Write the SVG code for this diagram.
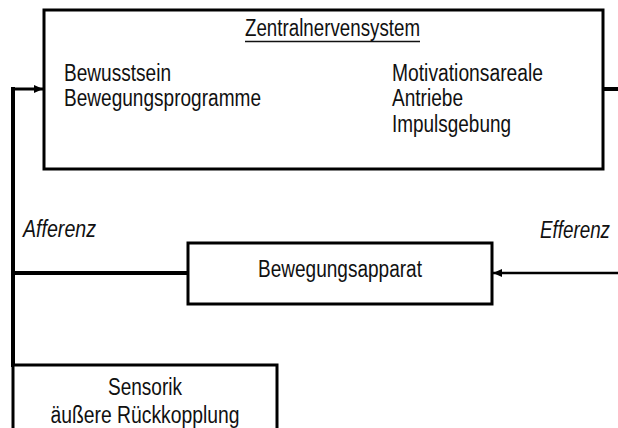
<svg xmlns="http://www.w3.org/2000/svg" width="618" height="428" viewBox="0 0 618 428">
  <style>
    .box { fill: #fff; stroke: #000; stroke-width: 3; }
    .t { font-family: "Liberation Sans", Arial, sans-serif; font-size: 23px; fill: #111; }
    .c { text-anchor: middle; }
    .i { font-style: italic; }
    .ln { fill: none; stroke: #000; stroke-linecap: square; }
  </style>
  <defs>
    <marker id="ah" markerWidth="10" markerHeight="10" refX="9" refY="5" orient="auto" markerUnits="userSpaceOnUse">
      <path d="M0,1 L9,5 L0,9 Z" fill="#000"/>
    </marker>
  </defs>
  <rect width="618" height="428" fill="#fff"/>

  <g id="connectors">
    <path class="ln" d="M13,365 L13,89" stroke-width="4"/>
    <path d="M11,89 L43,89" stroke="#000" stroke-width="3" fill="none" marker-end="url(#ah)"/>
    <path class="ln" d="M13,273 L188,273" stroke-width="4"/>
    <path class="ln" d="M604,89 L620,89" stroke-width="4"/>
    <path d="M620,273 L493,273" stroke="#000" stroke-width="2.5" fill="none" marker-end="url(#ah)"/>
    <text class="t i" x="23" y="237" textLength="73" lengthAdjust="spacingAndGlyphs">Afferenz</text>
    <text class="t i" x="540" y="238" textLength="70" lengthAdjust="spacingAndGlyphs">Efferenz</text>
  </g>

  <g id="zns">
    <rect class="box" x="44" y="10" width="559" height="159"/>
    <text class="t c" x="332.5" y="36" textLength="175" lengthAdjust="spacingAndGlyphs">Zentralnervensystem</text>
    <line x1="245" y1="41.5" x2="420" y2="41.5" stroke="#111" stroke-width="1.5"/>
    <text class="t" x="64" y="81" textLength="107" lengthAdjust="spacingAndGlyphs">Bewusstsein</text>
    <text class="t" x="64" y="106" textLength="197" lengthAdjust="spacingAndGlyphs">Bewegungsprogramme</text>
    <text class="t" x="392" y="81" textLength="151" lengthAdjust="spacingAndGlyphs">Motivationsareale</text>
    <text class="t" x="392" y="106" textLength="71" lengthAdjust="spacingAndGlyphs">Antriebe</text>
    <text class="t" x="392" y="132" textLength="119" lengthAdjust="spacingAndGlyphs">Impulsgebung</text>
  </g>

  <g id="bewegungsapparat">
    <rect class="box" x="188" y="243" width="304" height="61"/>
    <text class="t c" x="340" y="277" textLength="164" lengthAdjust="spacingAndGlyphs">Bewegungsapparat</text>
  </g>

  <g id="sensorik">
    <rect class="box" x="13" y="365" width="264" height="70" stroke-width="2.5"/>
    <text class="t c" x="145" y="395" textLength="74" lengthAdjust="spacingAndGlyphs">Sensorik</text>
    <text class="t c" x="145" y="423" textLength="189" lengthAdjust="spacingAndGlyphs">äußere Rückkopplung</text>
  </g>
</svg>
